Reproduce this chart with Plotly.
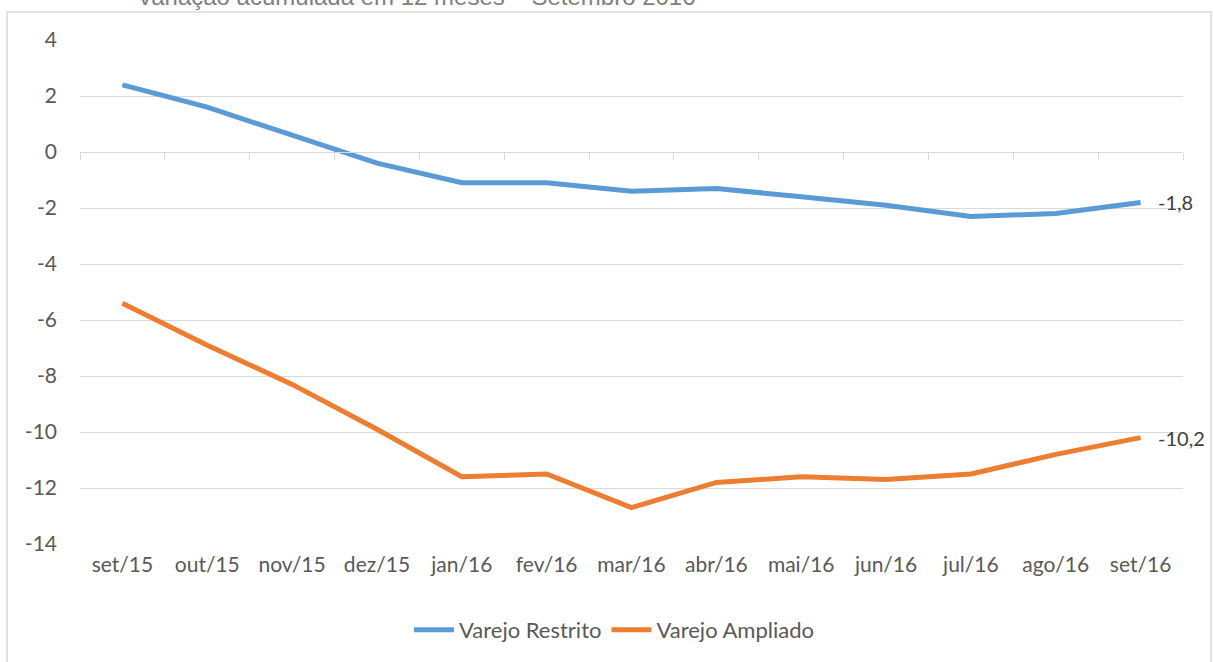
import plotly.graph_objects as go

categories = ["set/15", "out/15", "nov/15", "dez/15", "jan/16", "fev/16", "mar/16",
              "abr/16", "mai/16", "jun/16", "jul/16", "ago/16", "set/16"]
restrito = [2.4, 1.6, 0.6, -0.4, -1.1, -1.1, -1.4, -1.3, -1.6, -1.9, -2.3, -2.2, -1.8]
ampliado = [-5.4, -6.9, -8.3, -9.9, -11.6, -11.5, -12.7, -11.8, -11.6, -11.7, -11.5, -10.8, -10.2]
y_ticks = [4, 2, 0, -2, -4, -6, -8, -10, -12, -14]
title_text = "Variação acumulada em 12 meses – Setembro 2016"

FONT = "Lato"
TXT = "#595959"
BLUE = "#5B9BD5"
ORANGE = "#ED7D31"

OFF = 0  # page body margin removed via post_script
W, H = 1213, 662
# desired plot area in screen pixels: x 80..1183, y 40..545
ML = 80 - OFF
MT = 40 - OFF
MR = W - (1183 - OFF)
MB = H - (545 - OFF)
pw = W - ML - MR
ph = H - MT - MB

def px_x(p):
    return (p - OFF - ML) / pw

def px_y(p):
    return (H - MB - (p - OFF)) / ph

fig = go.Figure()
fig.add_trace(go.Scatter(x=categories, y=restrito, name="Varejo Restrito", mode="lines",
                         line=dict(color=BLUE, width=5)))
fig.add_trace(go.Scatter(x=categories, y=ampliado, name="Varejo Ampliado", mode="lines",
                         line=dict(color=ORANGE, width=5)))

# end labels
for series in (restrito, ampliado):
    v = series[-1]
    fig.add_annotation(x=categories[-1], y=v, text=f"{v:.1f}".replace(".", ","),
                       showarrow=False, xanchor="left", yanchor="middle", xshift=15,
                       font=dict(family=FONT, size=20, color="#404040"))

ymin, ymax = -14, 4
fig.update_layout(
    width=W, height=H,
    margin=dict(l=ML, r=MR, t=MT, b=MB),
    paper_bgcolor="white", plot_bgcolor="white",
    font=dict(family=FONT, size=21, color=TXT),
    showlegend=True,
    legend=dict(orientation="h", x=px_x(614), xanchor="center", y=px_y(630), yanchor="middle",
                font=dict(family=FONT, size=22, color=TXT), itemwidth=40,
                bgcolor="rgba(0,0,0,0)"),
    xaxis=dict(type="category", range=[-0.5, 12.5], showgrid=False, showline=False,
               zeroline=False, ticks="", tickfont=dict(family=FONT, size=21, color=TXT),
               ticklabelstandoff=6),
    xaxis2=dict(type="category", range=[-0.5, 12.5], overlaying="x", anchor="free",
                position=(0 - ymin) / (ymax - ymin), side="bottom", showline=True,
                linecolor="#D9D9D9", linewidth=1, ticks="outside", tickson="boundaries",
                ticklen=7, tickcolor="#D9D9D9", showticklabels=False, showgrid=False,
                zeroline=False, matches="x"),
    yaxis=dict(range=[ymin, ymax], tickvals=y_ticks, ticktext=[str(t) for t in y_ticks],
               showgrid=True, gridcolor="#D9D9D9", gridwidth=1, zeroline=False,
               showline=False, ticks="", tickfont=dict(family=FONT, size=21, color=TXT),
               ticklabelstandoff=22),
)
# dummy trace to activate xaxis2
fig.add_trace(go.Scatter(x=categories, y=[None] * len(categories), xaxis="x2",
                         showlegend=False, hoverinfo="skip"))

# chart border
fig.add_shape(type="rect", xref="paper", yref="paper",
              x0=px_x(7), x1=px_x(1211), y0=px_y(680), y1=px_y(12),
              line=dict(color="#D9D9D9", width=1.5), fillcolor="rgba(0,0,0,0)", layer="below")

# title (partially cut off at top, as in the source)
fig.add_annotation(xref="paper", yref="paper", x=px_x(416), y=px_y(-4), text=title_text,
                   showarrow=False, xanchor="center", yanchor="middle",
                   font=dict(family="Liberation Sans", size=24, color="#808080"))

fig.write_html("out.html", config={"displayModeBar": False},
               post_script="document.body.style.margin='0';document.body.style.padding='0';")
